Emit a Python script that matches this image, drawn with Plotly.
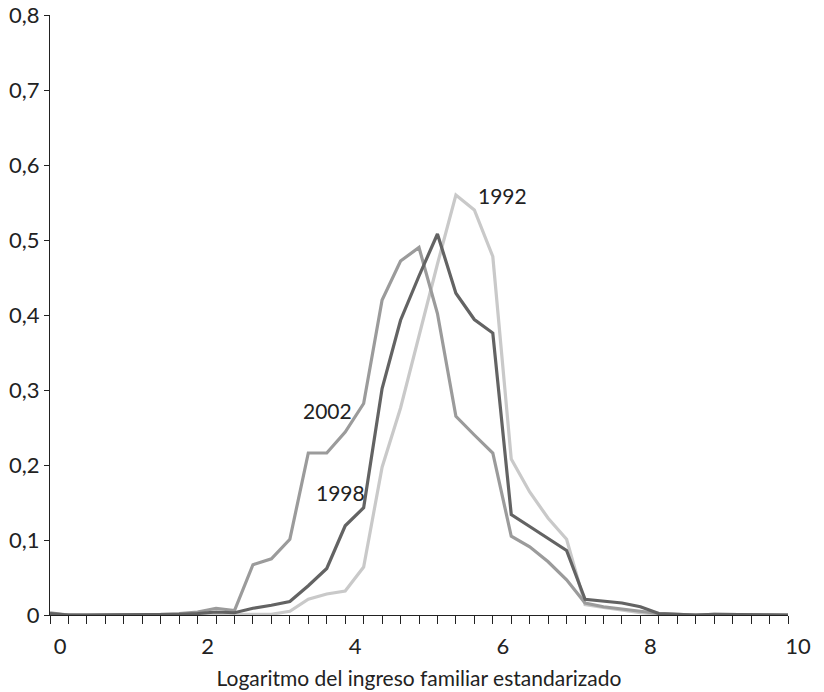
import plotly.graph_objects as go

x_vals = [i * 0.25 for i in range(41)]

y_1992 = [0.001, 0.0, 0.0, 0.0, 0.0, 0.0, 0.0, 0.0, 0.0, 0.0, 0.0, 0.0, 0.001,
          0.005, 0.021, 0.028, 0.032, 0.064, 0.197, 0.276, 0.373, 0.468, 0.560,
          0.540, 0.478, 0.208, 0.164, 0.129, 0.101, 0.014, 0.010, 0.006, 0.003,
          0.001, 0.0, 0.0, 0.0, 0.0, 0.0, 0.0, 0.0]

y_1998 = [0.002, 0.0, 0.0, 0.0, 0.0, 0.0, 0.0, 0.001, 0.002, 0.004, 0.003, 0.009,
          0.013, 0.018, 0.039, 0.062, 0.119, 0.143, 0.302, 0.393, 0.452, 0.508,
          0.429, 0.394, 0.376, 0.134, 0.118, 0.102, 0.086, 0.021, 0.018, 0.016,
          0.011, 0.002, 0.001, 0.0, 0.001, 0.001, 0.001, 0.001, 0.0]

y_2002 = [0.003, 0.0, 0.0, 0.0, 0.0, 0.0, 0.001, 0.002, 0.004, 0.009, 0.006, 0.067,
          0.075, 0.101, 0.216, 0.216, 0.244, 0.282, 0.420, 0.472, 0.490, 0.402,
          0.265, 0.240, 0.216, 0.105, 0.091, 0.071, 0.047, 0.016, 0.011, 0.008,
          0.005, 0.002, 0.001, 0.0, 0.001, 0.001, 0.001, 0.001, 0.0]

series_names = ["1992", "1998", "2002"]
series_colors = ["#c9c9c9", "#636363", "#9b9b9b"]

x_tick_vals = [i * 0.25 for i in range(41)]
x_tick_text = [str(int(v)) if v % 2 == 0 else "" for v in x_tick_vals]
y_tick_vals = [i / 10 for i in range(9)]
y_tick_text = ["0", "0,1", "0,2", "0,3", "0,4", "0,5", "0,6", "0,7", "0,8"]

labels_text = ["1992", "2002", "1998"]
labels_x = [6.13, 3.76, 3.93]
labels_y = [0.559, 0.273, 0.164]

FONT = "Lato, 'Open Sans', sans-serif"

fig = go.Figure()
for name, ys, col in [("1992", y_1992, series_colors[0]),
                      ("2002", y_2002, series_colors[2]),
                      ("1998", y_1998, series_colors[1])]:
    fig.add_trace(go.Scatter(x=x_vals, y=ys, mode="lines", name=name,
                             line=dict(color=col, width=3.2), showlegend=False,
                             hoverinfo="skip"))

for t, xx, yy in zip(labels_text, labels_x, labels_y):
    fig.add_annotation(x=xx, y=yy, text=t, showarrow=False,
                       font=dict(size=21, color="#222222", family=FONT))

fig.update_layout(
    width=824, height=692,
    margin=dict(l=50, r=36, t=15, b=77),
    plot_bgcolor="white", paper_bgcolor="white",
    font=dict(family=FONT, size=20, color="#222222"),
    xaxis=dict(range=[0, 10], tickmode="array", tickvals=x_tick_vals,
               ticktext=x_tick_text, ticks="outside", ticklen=8, tickwidth=1,
               tickcolor="#222222", showline=True, linecolor="#222222",
               linewidth=1, showgrid=False, zeroline=False, automargin=False,
               ticklabelshift=10, ticklabelstandoff=4,
               title=dict(text="Logaritmo del ingreso familiar estandarizado",
                          font=dict(size=21), standoff=12),
               tickfont=dict(size=22)),
    yaxis=dict(range=[0, 0.8], tickmode="array", tickvals=y_tick_vals,
               ticktext=y_tick_text, ticks="outside", ticklen=5, tickwidth=1,
               tickcolor="#222222", showline=True, linecolor="#222222",
               linewidth=1, showgrid=False, zeroline=False, automargin=False,
               tickfont=dict(size=22)),
)

fig.write_html("out.html")
